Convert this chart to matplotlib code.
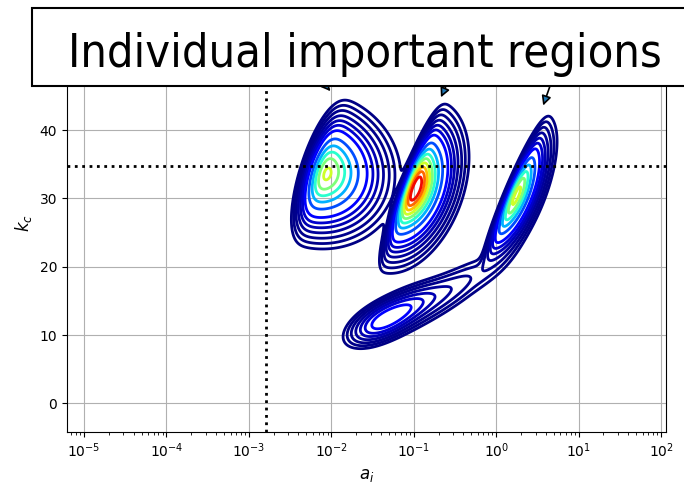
import math
import matplotlib
matplotlib.use("Agg")
import matplotlib.pyplot as plt
import numpy as np
from matplotlib.patches import Rectangle

# blob parameters, worked out in (log10 a, k / K_PER_DEC) space
K_PER_DEC = 12.39
U0 = [-2.177, -1.05, 0.194, -1.495, -0.619]
K0 = [34.1, 31.8, 30.68, 11.3, 16.0]
ANG = [-18.0, 69.0, 66.7, 27.4, 32.0]      # direction of first axis, degrees
S1 = [0.32, 0.32, 0.32, 0.41, 0.42]
S2 = [0.285, 0.194, 0.12, 0.091, 0.10]
ALPHA1 = [4.0, 0.0, 0.0, 2.0, 0.0]
ALPHA2 = [0.0, -4.0, -3.0, 0.0, 0.0]
PEAK = [0.62, 1.0, 0.64, 0.17, 0.02]

LEVELS = [0.004, 0.008, 0.015, 0.027, 0.045, 0.07, 0.11,
          0.2, 0.3, 0.4, 0.5, 0.6, 0.7, 0.8, 0.9]

A_LINE = 1.6e-3
K_LINE = 34.7
ARROW_TIPS = [(10 ** -2.01, 45.7), (10 ** -0.67, 44.8), (10 ** 0.57, 43.6)]
ARROW_TAILS_PX = [326, 446, 550]

XLIM = (10 ** -5.206, 10 ** 2.06)
YLIM = (-4.2, 57)

erf = np.vectorize(math.erf)


def blob(U, K, i):
    x = U - U0[i]
    y = (K - K0[i]) / K_PER_DEC
    th = np.radians(ANG[i])
    z1 = (x * np.cos(th) + y * np.sin(th)) / S1[i]
    z2 = (-x * np.sin(th) + y * np.cos(th)) / S2[i]
    f = np.exp(-(z1 ** 2 + z2 ** 2) / 2)
    if ALPHA1[i] or ALPHA2[i]:
        skew = ALPHA1[i] * z1 + ALPHA2[i] * z2
        f = f * 0.5 * (1 + erf(skew / np.sqrt(2)))
    return f / f.max()


u = np.linspace(np.log10(XLIM[0]), np.log10(XLIM[1]), 800)
k = np.linspace(YLIM[0], YLIM[1], 600)
U, K = np.meshgrid(u, k)
Z = np.zeros_like(U)
for i in range(len(U0)):
    Z += PEAK[i] * blob(U, K, i)

fig = plt.figure(figsize=(6.84, 4.82), dpi=100)
ax = fig.add_axes([67 / 684, 50 / 482, 599 / 684, 1 - 64 / 482])
ax.set_xscale("log")
ax.grid(True, color="#b0b0b0", zorder=0)
ax.set_axisbelow(True)
ax.contour(10 ** U, K, Z, levels=LEVELS, cmap="jet", vmin=0, vmax=1, linewidths=2)
ax.axvline(A_LINE, color="k", ls=":", lw=2)
ax.axhline(K_LINE, color="k", ls=":", lw=2)
ax.set_xlim(*XLIM)
ax.set_ylim(*YLIM)
ax.set_xlabel("$a_i$", fontsize=12)
ax.set_ylabel("$k_c$", fontsize=12)

for (xa, ya), px in zip(ARROW_TIPS, ARROW_TAILS_PX):
    ax.annotate("", xy=(xa, ya), xycoords="data",
                xytext=(px / 684, 1 - 86 / 482), textcoords="figure fraction",
                arrowprops=dict(arrowstyle="-|>", fc="C0", ec="k", lw=1.2,
                                mutation_scale=14, shrinkA=0, shrinkB=0),
                annotation_clip=False, zorder=5)

fig.patches.append(Rectangle((32 / 684, 1 - 86 / 482), 0.99, 78 / 482,
                             transform=fig.transFigure, fc="white", ec="k",
                             lw=1.5, zorder=10))
fig.text(364.5 / 684, 1 - 67 / 482, "Individual important regions",
         ha="center", va="baseline", fontsize=33.7, fontstretch="condensed",
         family="DejaVu Sans", zorder=11)

fig.savefig("out.png", dpi=100)
